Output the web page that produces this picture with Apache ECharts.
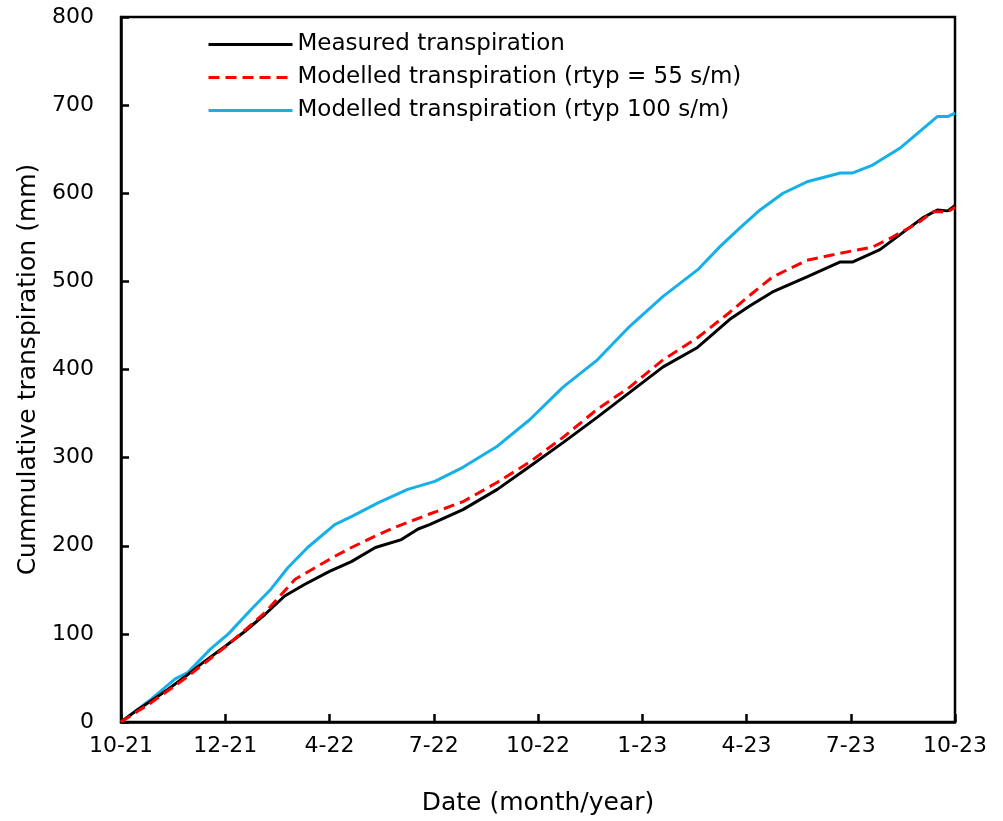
<!DOCTYPE html>
<html>
<head>
<meta charset="utf-8">
<script src="https://cdn.jsdelivr.net/npm/echarts@6/dist/echarts.min.js"></script>
<style>
  html, body { margin: 0; padding: 0; background: #fff; }
  #chart { width: 1003px; height: 821px; }
</style>
</head>
<body>
<div id="chart"></div>
<script>
// Date axis: position counted in tick steps from 10-21 (0) to 10-23 (8)
const dateTicks = ['10-21', '12-21', '4-22', '7-22', '10-22', '1-23', '4-23', '7-23', '10-23'];

// Measured transpiration (mm)
const measuredX = [0, 0.16, 0.29, 0.45, 0.61, 0.77, 1.00, 1.19, 1.38, 1.57, 1.76, 2.00, 2.21, 2.44, 2.69, 2.85, 2.96, 3.28, 3.61, 3.92, 4.24, 4.57, 4.88, 5.20, 5.53, 5.84, 6.03, 6.25, 6.58, 6.90, 7.02, 7.28, 7.54, 7.69, 7.83, 7.93, 8.00];
const measuredY = [0, 14, 24, 37, 51, 66, 86, 103, 122, 143, 156, 171, 182, 198, 207, 219, 224, 241, 264, 290, 317, 346, 374, 403, 425, 457, 472, 488, 505, 522, 522, 536, 559, 572, 581, 580, 586];

// Modelled transpiration, rtyp = 55 s/m (mm)
const model55X = [0, 0.29, 0.61, 1.03, 1.38, 1.67, 1.89, 2.05, 2.21, 2.44, 2.63, 2.96, 3.28, 3.61, 3.92, 4.24, 4.57, 4.88, 5.20, 5.53, 5.84, 6.03, 6.25, 6.58, 6.90, 7.21, 7.38, 7.64, 7.79, 7.93, 8.00];
const model55Y = [0, 22, 49, 88, 124, 162, 177, 188, 198, 211, 221, 236, 250, 272, 295, 323, 355, 380, 411, 436, 465, 484, 505, 524, 532, 539, 549, 566, 579, 579, 584];

// Modelled transpiration, rtyp 100 s/m (mm)
const model100X = [0, 0.29, 0.52, 0.64, 0.86, 1.03, 1.25, 1.44, 1.60, 1.79, 2.05, 2.21, 2.47, 2.75, 3.01, 3.28, 3.61, 3.92, 4.24, 4.57, 4.88, 5.20, 5.53, 5.75, 5.94, 6.13, 6.35, 6.58, 6.90, 7.02, 7.21, 7.47, 7.66, 7.83, 7.93, 8.00];
const model100Y = [0, 26, 49, 56, 83, 100, 128, 151, 175, 198, 224, 233, 249, 264, 273, 289, 313, 343, 380, 411, 449, 483, 513, 540, 561, 581, 600, 613, 623, 623, 632, 651, 670, 687, 687, 691];

const pairs = (xs, ys) => xs.map((x, i) => [x, ys[i]]);

const FONT = 'DejaVu Sans';
const chart = echarts.init(document.getElementById('chart'));

chart.setOption({
  backgroundColor: '#ffffff',
  animation: false,
  textStyle: { fontFamily: FONT, color: '#000' },
  grid: {
    left: 121, right: 48, top: 17, bottom: 98,
    show: true, borderColor: '#000', borderWidth: 2.5, backgroundColor: 'transparent'
  },
  legend: {
    orient: 'vertical',
    left: 207, top: 33, padding: 0,
    itemWidth: 84, itemHeight: 14, itemGap: 10,
    itemStyle: { opacity: 0 },
    lineStyle: { width: 3 },
    textStyle: { fontFamily: FONT, fontSize: 23, color: '#000' },
    data: ['Measured transpiration', 'Modelled transpiration (rtyp = 55 s/m)', 'Modelled transpiration (rtyp 100 s/m)']
  },
  xAxis: {
    type: 'value', min: 0, max: 8, interval: 1,
    name: 'Date (month/year)', nameLocation: 'middle', nameGap: 69,
    nameTextStyle: { fontFamily: FONT, fontSize: 25, color: '#000' },
    axisLine: { lineStyle: { color: '#000', width: 2.5 } },
    axisTick: { inside: true, length: 8, lineStyle: { color: '#000', width: 2.5 } },
    axisLabel: { fontFamily: FONT, fontSize: 22, color: '#000', margin: 13,
      formatter: v => dateTicks[Math.round(v)] },
    splitLine: { show: false }
  },
  yAxis: {
    type: 'value', min: 0, max: 800, interval: 100,
    name: 'Cummulative transpiration (mm)', nameLocation: 'middle', nameGap: 80,
    nameTextStyle: { fontFamily: FONT, fontSize: 25, color: '#000' },
    axisLine: { show: true, lineStyle: { color: '#000', width: 2.5 } },
    axisTick: { show: true, inside: true, length: 8, lineStyle: { color: '#000', width: 2.5 } },
    axisLabel: { fontFamily: FONT, fontSize: 22, color: '#000', margin: 27 },
    splitLine: { show: false }
  },
  series: [
    {
      name: 'Measured transpiration', type: 'line', symbol: 'none', z: 3,
      lineStyle: { color: '#000000', width: 3 }, itemStyle: { color: '#000000' },
      data: pairs(measuredX, measuredY)
    },
    {
      name: 'Modelled transpiration (rtyp = 55 s/m)', type: 'line', symbol: 'none', z: 4,
      lineStyle: { color: '#ff0000', width: 3, type: [11, 6] }, itemStyle: { color: '#ff0000' },
      data: pairs(model55X, model55Y)
    },
    {
      name: 'Modelled transpiration (rtyp 100 s/m)', type: 'line', symbol: 'none', z: 2,
      lineStyle: { color: '#16b0e8', width: 3 }, itemStyle: { color: '#16b0e8' },
      data: pairs(model100X, model100Y)
    }
  ]
});
</script>
</body>
</html>
